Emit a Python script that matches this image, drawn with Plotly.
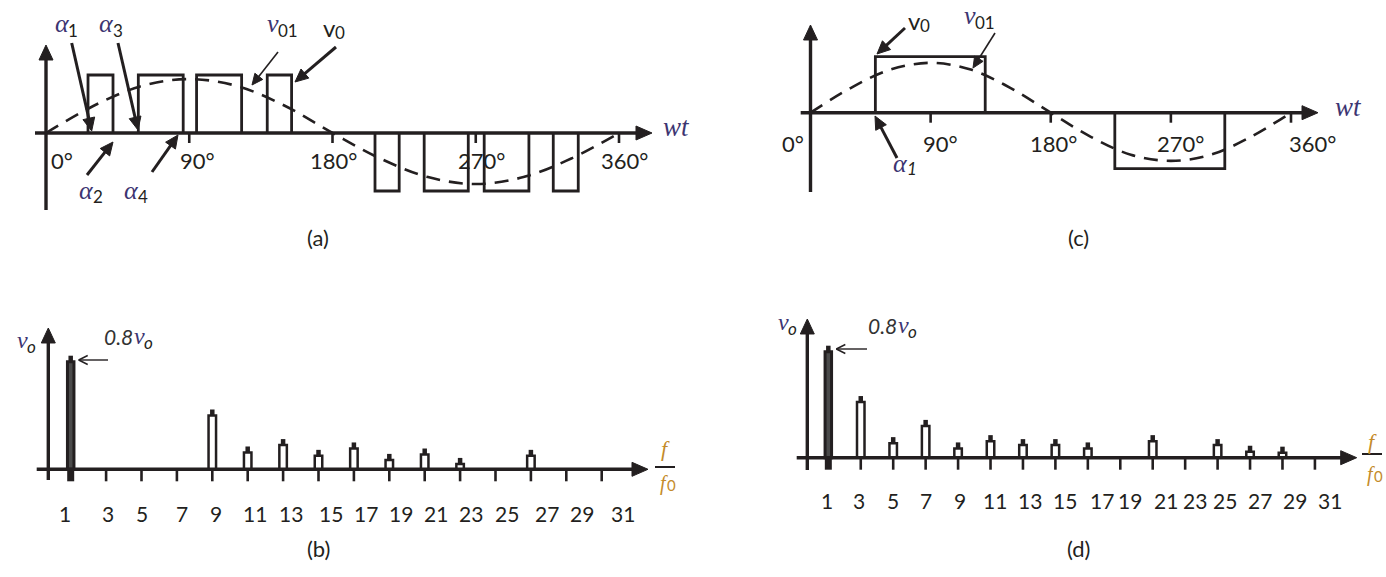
import math
import plotly.graph_objects as go

W, H = 1386, 577
INK = "#231f20"
MATH = "#3d3572"
FRAC = "#c48b2a"
SANS = "Lato"
SERIF = "Liberation Serif"

# ---------------- data ----------------
# (a) multi-pulse PWM output, switching angles in degrees
a_pos_edges = [26.4, 42.1, 58.0, 86.2, 94.6, 122.9, 139.0, 154.3]
a_neg_edges = [206.7, 221.9, 237.6, 265.3, 275.3, 303.4, 318.7, 334.4]
fund_deg = [0, 30, 60, 90, 120, 150, 180, 210, 240, 270, 300, 330, 360]
a_fund_val = [0, 0.47, 0.81, 0.93, 0.81, 0.47, 0, -0.44, -0.76, -0.88, -0.76, -0.44, 0]

# (c) single-pulse output
c_pos_edges = [48.6, 130.9]
c_neg_edges = [228.0, 310.4]
c_fund_val = [0, 0.44, 0.77, 0.89, 0.77, 0.44, 0, -0.43, -0.75, -0.86, -0.75, -0.43, 0]

deg_ticks = [90, 180, 270, 360]
deg_labels = [0, 90, 180, 270, 360]

# harmonic spectra (amplitude relative to vo)
harmonic_ticks = [1, 3, 5, 7, 9, 11, 13, 15, 17, 19, 21, 23, 25, 27, 29, 31]
b_orders = [1, 9, 11, 13, 15, 17, 19, 21, 23, 27]
b_amps = [0.80, 0.40, 0.125, 0.18, 0.10, 0.155, 0.07, 0.11, 0.04, 0.10]
d_orders = [1, 3, 5, 7, 9, 11, 13, 15, 17, 21, 25, 27, 29]
d_amps = [0.80, 0.42, 0.11, 0.24, 0.07, 0.125, 0.095, 0.095, 0.07, 0.125, 0.095, 0.045, 0.038]

# ---------------- layout helpers ----------------
class Panel:
    def __init__(self, n, box, x0px, sx, y0px, sy):
        self.n, self.box = n, box
        self.x0px, self.sx, self.y0px, self.sy = x0px, sx, y0px, sy

    def px(self, v):
        return self.x0px + v * self.sx

    def axes(self):
        left, top, right, bottom = self.box
        sfx = "" if self.n == 1 else str(self.n)
        xa = dict(domain=[left / W, right / W],
                  range=[(left - self.x0px) / self.sx, (right - self.x0px) / self.sx],
                  visible=False, fixedrange=True, anchor="y" + sfx)
        ya = dict(domain=[1 - bottom / H, 1 - top / H],
                  range=[(self.y0px - bottom) / self.sy, (self.y0px - top) / self.sy],
                  visible=False, fixedrange=True, anchor="x" + sfx)
        return {"xaxis" + sfx: xa, "yaxis" + sfx: ya}

    @property
    def xref(self):
        return "x" if self.n == 1 else "x%d" % self.n

    @property
    def yref(self):
        return "y" if self.n == 1 else "y%d" % self.n


PA = Panel(1, (0, 0, 693, 280), 46.0, 573.0 / 360, 133.0, 58.0)
PC = Panel(2, (693, 0, 1386, 280), 810.5, 480.5 / 360, 112.7, 56.0)
PB = Panel(3, (0, 280, 693, 577), 53.0, 17.7, 469.3, 134.5)
PD = Panel(4, (693, 280, 1386, 577), 812.1, 16.22, 457.7, 132.5)

fig = go.Figure()
shapes, annotations = [], []


def P(px, py):
    return px / W, 1 - py / H


def pline(x0, y0, x1, y1, width=3.2):
    a, b = P(x0, y0)
    c, d = P(x1, y1)
    shapes.append(dict(type="line", xref="paper", yref="paper", x0=a, y0=b, x1=c, y1=d,
                       line=dict(color=INK, width=width)))


def ptri(pts):
    path = "M " + " L ".join("%f,%f" % P(x, y) for x, y in pts) + " Z"
    shapes.append(dict(type="path", xref="paper", yref="paper", path=path,
                       fillcolor=INK, line=dict(color=INK, width=1)))


def h_axis(x_start, x_tip, y):
    pline(x_start, y, x_tip - 10, y, 3.4)
    ptri([(x_tip, y), (x_tip - 16, y - 7), (x_tip - 16, y + 7)])


def v_axis(x, y_bottom, y_tip):
    pline(x, y_bottom, x, y_tip + 10, 3.4)
    ptri([(x, y_tip), (x - 7, y_tip + 15), (x + 7, y_tip + 15)])


def arrow(head, tail, width=3.0, length=13, half=6, filled=True):
    hx, hy = head
    tx, ty = tail
    d = math.hypot(hx - tx, hy - ty)
    ux, uy = (hx - tx) / d, (hy - ty) / d
    nx, ny = -uy, ux
    bx, by = hx - ux * length, hy - uy * length
    if filled:
        pline(tx, ty, bx + ux, by + uy, width)
        ptri([(hx, hy), (bx + nx * half, by + ny * half), (bx - nx * half, by - ny * half)])
    else:
        pline(tx, ty, hx, hy, width)
        pline(hx, hy, bx + nx * half, by + ny * half, width)
        pline(hx, hy, bx - nx * half, by - ny * half, width)


def text(px, py, s, size=22, family=SANS, color=INK, italic=False, anchor="center"):
    x, y = P(px, py)
    annotations.append(dict(xref="paper", yref="paper", x=x, y=y, text=s, showarrow=False,
                            font=dict(family=family, size=size, color=color,
                                      style="italic" if italic else "normal"),
                            borderpad=0, borderwidth=0,
                            xanchor=anchor, yanchor="middle"))


def sym(split, py, ch, sub, dy=6, size=26, sub_size=17, color=MATH,
        sub_color=INK, sub_italic=False, family=SERIF):
    """Symbol ending at x=split with a smaller subscript starting there."""
    text(split + 1, py, ch, size=size, family=family, color=color,
         italic=(family == SERIF), anchor="right")
    text(split - 0.5, py + dy, sub, size=sub_size, color=sub_color,
         italic=sub_italic, anchor="left")


def steps(edges, level):
    xs, ys = [], []
    for i in range(0, len(edges), 2):
        x0, x1 = edges[i], edges[i + 1]
        xs += [x0, x0, x1, x1, None]
        ys += [0, level, level, 0, None]
    return xs, ys


# ---------------- waveform panels (a) and (c) ----------------
for panel, pos, neg, fund in ((PA, a_pos_edges, a_neg_edges, a_fund_val),
                              (PC, c_pos_edges, c_neg_edges, c_fund_val)):
    fig.update_layout(**panel.axes())
    px_, py_ = steps(pos, 1.0)
    nx_, ny_ = steps(neg, -1.0)
    fig.add_trace(go.Scatter(x=px_ + nx_, y=py_ + ny_, mode="lines",
                             line=dict(color=INK, width=2.8), xaxis=panel.xref, yaxis=panel.yref,
                             hoverinfo="skip", showlegend=False))
    fig.add_trace(go.Scatter(x=fund_deg, y=fund, mode="lines",
                             line=dict(color=INK, width=2.6, dash="14px,9px", shape="spline", smoothing=1.0),
                             xaxis=panel.xref, yaxis=panel.yref, hoverinfo="skip", showlegend=False))
    for t in deg_ticks:
        pline(panel.px(t), panel.y0px, panel.px(t), panel.y0px + 10, 2.6)

# axes of (a)
h_axis(35, 652, PA.y0px)
v_axis(PA.px(0), 210, 45)
# axes of (c)
h_axis(800.7, 1318, PC.y0px)
v_axis(PC.px(0), 192, 25)

for x, d in zip([62, 197, 333, 481, 624], deg_labels):
    text(x, 160, "%d°" % d)
for x, d in zip([793, 940, 1053, 1180, 1312], deg_labels):
    text(x, 143, "%d°" % d)

text(676, 127, "wt", size=27, family=SERIF, color=MATH, italic=True)
text(1348, 107, "wt", size=27, family=SERIF, color=MATH, italic=True)

# labels and pointers of (a)
sym(68.5, 24, "α", "1")
sym(113, 24, "α", "3")
sym(93, 190, "α", "2")
sym(138, 190, "α", "4")
sym(278, 24, "v", "01")
sym(335, 27, "v", "0", dy=6, size=24, color=INK, family=SANS)
arrow((91.7, 131), (71.7, 43))
arrow((138, 130), (118, 43))
arrow((113, 142), (87, 175))
arrow((178, 135), (152, 172))
arrow((252, 85), (278, 52), width=1.6, length=11, half=5)
arrow((295, 82), (336, 47))

# labels and pointers of (c)
sym(920, 20, "v", "0", dy=6, size=24, color=INK, family=SANS)
sym(975, 16, "v", "01")
sym(907, 163, "α", "1", sub_italic=True)
arrow((877, 54), (905, 28))
arrow((973, 68), (995, 33), width=1.6, length=11, half=5)
arrow((875, 116), (897, 158))

# ---------------- spectrum panels (b) and (d) ----------------
def spectrum(panel, orders, amps, label_px, label_y):
    fig.update_layout(**panel.axes())
    bw = 7.5 / panel.sx
    cap_w = 4.5 / panel.sx
    cap_h = 6.0 / panel.sy
    common = dict(xaxis=panel.xref, yaxis=panel.yref, hoverinfo="skip", showlegend=False)
    # fundamental
    fig.add_trace(go.Bar(x=orders[:1], y=amps[:1], width=6.5 / panel.sx,
                         marker=dict(color="#4a4a4a", line=dict(color=INK, width=3)), **common))
    # higher harmonics
    fig.add_trace(go.Bar(x=orders[1:], y=amps[1:], width=bw,
                         marker=dict(color="white", line=dict(color=INK, width=2.5)), **common))
    # small caps on top of each line
    fig.add_trace(go.Bar(x=orders, y=[cap_h] * len(orders), base=amps, width=cap_w,
                         marker=dict(color=INK, line=dict(width=0)), **common))
    for n in harmonic_ticks:
        w = 7 if n == orders[0] else 2.6
        pline(panel.px(n), panel.y0px, panel.px(n), panel.y0px + 12, w)
    for x, n in zip(label_px, harmonic_ticks):
        text(x, label_y, str(n), size=21)


b_label_px = [65, 108, 142, 182, 216, 255, 291, 331, 366, 401, 436, 471, 507, 547, 582, 623]
d_label_px = [827, 859, 893, 926, 960, 995, 1030, 1065, 1102, 1130, 1166, 1195, 1225, 1260, 1295, 1330]
spectrum(PB, b_orders, b_amps, b_label_px, 513)
spectrum(PD, d_orders, d_amps, d_label_px, 500)

h_axis(36.7, 648, PB.y0px)
v_axis(48.3, 480, 328)
h_axis(796.7, 1356.7, PD.y0px)
v_axis(807.3, 470, 319)

# fundamental value callouts
for right, ymid in ((133, 336), (897, 325)):
    text(right, ymid, "0.8", size=21, color="#333333", italic=True, anchor="right")
    sym(right + 11, ymid, "v", "o", dy=6, size=24, sub_italic=True)
sym(27, 340, "v", "o", dy=6, size=24, sub_italic=True)
sym(788, 322, "v", "o", dy=6, size=24, sub_italic=True)
arrow((PB.px(1) + 8, 360), (108, 360), width=1.4, length=9, half=4.5, filled=False)
arrow((PD.px(1) + 8, 349), (867, 349), width=1.4, length=9, half=4.5, filled=False)

# f / f0 axis titles
for cx, ytop, yline, ybot in ((665, 448, 467, 483), (1372, 441, 454, 474)):
    text(cx, ytop, "f", size=22, family=SERIF, color=FRAC, italic=True)
    sym(cx + 2, ybot, "f", "0", dy=2, size=20, sub_size=15, color=FRAC, sub_color=FRAC)
    a, b = P(cx - 10, yline)
    c, d = P(cx + 10, yline)
    shapes.append(dict(type="line", xref="paper", yref="paper", x0=a, y0=b, x1=c, y1=d,
                       line=dict(color=INK, width=2)))

# panel captions
text(318, 237, "(a)")
text(1078, 237, "(c)")
text(318, 548, "(b)")
text(1078, 548, "(d)")

fig.update_layout(width=W, height=H, margin=dict(l=0, r=0, t=0, b=0),
                  paper_bgcolor="white", plot_bgcolor="rgba(0,0,0,0)",
                  barmode="overlay", showlegend=False,
                  shapes=shapes, annotations=annotations)

fig.write_html("out.html")
